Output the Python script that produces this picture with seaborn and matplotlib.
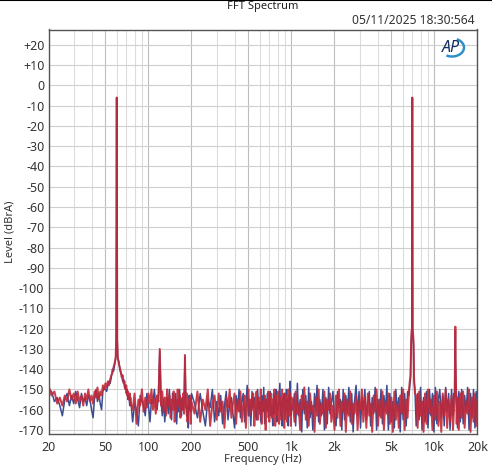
import pandas as pd
import matplotlib
matplotlib.use("Agg")
import matplotlib.pyplot as plt
import seaborn as sns
from matplotlib.patches import Arc
from matplotlib.lines import Line2D
from matplotlib.ticker import FixedLocator, NullFormatter

# --- 20..50 Hz ---
freq_a = [20, 21, 22, 23, 24, 25, 26, 27, 28, 29,
          30, 31, 32, 33, 34, 35, 36, 37, 38, 39,
          40, 41, 42, 43, 44, 45, 46, 47, 48, 49,
          50]
red_a = [-148, -153, -151, -157, -154, -158, -153, -156, -150, -155,
         -152, -157, -151, -156, -153, -158, -152, -155, -150, -156,
         -153, -157, -151, -154, -149, -155, -151, -153, -148, -150,
         -147]
blue_a = [-150, -151, -156, -154, -158, -163, -155, -152, -158, -153,
          -157, -151, -155, -159, -152, -156, -154, -158, -153, -155,
          -160, -164, -154, -150, -156, -152, -157, -160, -151, -149,
          -150]

# --- 50..75 Hz (60 Hz tone) ---
freq_b = [51, 52, 53, 54, 55, 56, 57, 58, 59, 59.5,
          59.8, 60, 60.2, 60.5, 61, 62, 63, 64, 65, 66,
          67, 68, 69, 70, 71, 72, 73, 74, 75]
red_b = [-149, -146, -148, -145, -143, -142, -139, -137, -134, -125,
         -60, -6, -60, -125, -134, -137, -139, -141, -144, -143,
         -147, -146, -150, -148, -153, -151, -155, -152, -157]
blue_b = [-151, -148, -146, -147, -144, -140, -141, -138, -135, -126,
          -62, -6, -62, -126, -135, -136, -140, -142, -143, -146,
          -145, -149, -148, -152, -150, -155, -153, -158, -154]

# --- 75..200 Hz ---
freq_c = [77.5, 80, 82.5, 85, 87.5, 90, 92.5, 95, 97.5, 100,
          102.5, 105, 107.5, 110, 112.5, 115, 117.5, 120, 122.5, 125,
          127.5, 130, 132.5, 135, 137.5, 140, 142.5, 145, 147.5, 150,
          152.5, 155, 157.5, 160, 162.5, 165, 167.5, 170, 172.5, 175,
          177.5, 180, 182.5, 185, 187.5, 190, 192.5, 195, 197.5, 200]
red_c = [-160, -152, -167, -155, -158, -150, -161, -154, -159, -152,
         -157, -150, -160, -155, -162, -153, -156, -130, -158, -151,
         -161, -154, -163, -150, -158, -153, -164, -155, -160, -151,
         -166, -156, -161, -150, -158, -153, -164, -155, -160, -152,
         -162, -133, -159, -152, -166, -155, -160, -153, -167, -156]
blue_c = [-166, -157, -160, -168, -153, -156, -158, -163, -152, -158,
          -166, -155, -157, -150, -158, -160, -152, -131, -156, -163,
          -155, -166, -158, -154, -162, -150, -159, -165, -152, -157,
          -160, -152, -167, -155, -161, -150, -158, -163, -154, -160,
          -157, -134, -156, -163, -158, -169, -153, -159, -161, -152]

# --- 200..1000 Hz ---
freq_d = [210, 220, 230, 240, 250, 260, 270, 280, 290, 300,
          310, 320, 330, 340, 350, 360, 370, 380, 390, 400,
          410, 420, 430, 440, 450, 460, 470, 480, 490, 500,
          510, 520, 530, 540, 550, 560, 570, 580, 590, 600,
          610, 620, 630, 640, 650, 660, 670, 680, 690, 700,
          710, 720, 730, 740, 750, 760, 770, 780, 790, 800,
          810, 820, 830, 840, 850, 860, 870, 880, 890, 900,
          910, 920, 930, 940, 950, 960, 970, 980, 990, 1000]
red_d = [-162, -151, -166, -155, -160, -150, -168, -157, -153, -165,
         -152, -161, -156, -169, -154, -159, -150, -164, -157, -152,
         -167, -155, -161, -151, -166, -158, -153, -169, -156, -150,
         -163, -155, -160, -152, -168, -157, -151, -165, -154, -162,
         -150, -167, -156, -159, -153, -170, -155, -161, -151, -166,
         -157, -152, -164, -155, -160, -150, -168, -156, -153, -163,
         -151, -167, -158, -154, -165, -150, -161, -156, -169, -152,
         -159, -153, -166, -155, -150, -163, -157, -152, -168, -154]
blue_d = [-157, -164, -152, -161, -168, -155, -159, -150, -166, -156,
          -163, -153, -167, -158, -151, -165, -157, -154, -162, -169,
          -153, -160, -150, -164, -156, -152, -166, -158, -148, -163,
          -155, -168, -151, -159, -154, -162, -165, -150, -160, -156,
          -166, -153, -161, -149, -167, -155, -160, -152, -164, -157,
          -151, -163, -158, -168, -152, -162, -155, -150, -166, -157,
          -160, -153, -147, -163, -156, -168, -154, -159, -152, -165,
          -157, -150, -161, -155, -168, -153, -160, -146, -163, -158]

# --- 1k..20k Hz (7 kHz tone + 14 kHz harmonic) ---
freq_e = [1020, 1050, 1070, 1100, 1120, 1150, 1180, 1200, 1230, 1260,
          1290, 1320, 1350, 1380, 1410, 1450, 1480, 1510, 1550, 1580,
          1620, 1660, 1700, 1740, 1780, 1820, 1860, 1900, 1950, 2000,
          2050, 2100, 2150, 2200, 2250, 2300, 2350, 2400, 2460, 2520,
          2580, 2640, 2700, 2760, 2830, 2900, 2970, 3040, 3110, 3180,
          3260, 3340, 3420, 3500, 3580, 3670, 3760, 3850, 3940, 4030,
          4130, 4230, 4330, 4430, 4540, 4650, 4760, 4880, 5000, 5120,
          5240, 5370, 5500, 5630, 5760, 5900, 6040, 6190, 6340, 6490,
          6640, 6720, 6800, 6860, 6920, 6960, 6980, 7000, 7020, 7040,
          7080, 7140, 7200, 7300, 7450, 7630, 7810, 8000, 8190, 8390,
          8590, 8800, 9010, 9230, 9450, 9680, 9910, 10150, 10400, 10650,
          10900, 11160, 11430, 11700, 11980, 12270, 12560, 12860, 13170, 13480,
          13700, 13850, 13950, 14000, 14050, 14150, 14300, 14500, 14800, 15150,
          15500, 15880, 16260, 16650, 17050, 17460, 17880, 18310, 18750, 19200,
          19600, 20000]
red_e = [-155, -166, -151, -162, -157, -170, -153, -160, -149, -165,
         -156, -168, -152, -161, -158, -171, -154, -163, -150, -167,
         -157, -162, -151, -169, -155, -160, -152, -166, -158, -170,
         -153, -164, -150, -168, -156, -161, -152, -171, -155, -163,
         -151, -167, -157, -162, -153, -170, -156, -160, -150, -166,
         -154, -169, -152, -163, -157, -171, -153, -161, -150, -168,
         -155, -164, -151, -170, -156, -162, -152, -167, -154, -171,
         -151, -165, -157, -169, -153, -162, -150, -170, -155, -164,
         -150, -146, -143, -128, -121, -120, -60, -6, -60, -120,
         -122, -126, -144, -152, -153, -169, -151, -163, -156, -171,
         -152, -167, -150, -162, -155, -170, -153, -165, -151, -168,
         -156, -171, -152, -163, -150, -169, -155, -166, -153, -170,
         -160, -150, -127, -119, -135, -148, -167, -154, -170, -152,
         -164, -151, -169, -156, -162, -150, -171, -154, -166, -152,
         -168, -155]
blue_e = [-160, -152, -168, -147, -163, -155, -171, -150, -162, -153,
          -169, -149, -164, -156, -170, -152, -161, -148, -166, -155,
          -163, -150, -170, -154, -167, -149, -162, -157, -151, -164,
          -168, -151, -159, -155, -170, -150, -165, -153, -162, -149,
          -166, -152, -171, -156, -148, -163, -151, -169, -154, -160,
          -150, -165, -157, -151, -168, -154, -162, -149, -170, -155,
          -163, -150, -167, -153, -161, -148, -170, -152, -166, -156,
          -169, -150, -161, -154, -171, -149, -165, -152, -168, -151,
          -153, -148, -145, -130, -123, -121, -62, -6, -62, -122,
          -124, -128, -146, -150, -168, -152, -165, -149, -170, -154,
          -166, -151, -169, -150, -163, -152, -171, -149, -167, -155,
          -150, -164, -153, -168, -149, -161, -152, -170, -150, -163,
          -152, -154, -129, -121, -137, -150, -155, -169, -151, -166,
          -150, -167, -153, -161, -149, -170, -152, -164, -150, -169,
          -151, -167]

x_ticks = [20, 50, 100, 200, 500, 1000, 2000, 5000, 10000, 20000]
x_labels = ['20', '50', '100', '200', '500', '1k', '2k', '5k', '10k', '20k']
x_minor = [30, 40, 60, 70, 80, 90, 300, 400, 600, 700, 800, 900,
           3000, 4000, 6000, 7000, 8000, 9000]
y_ticks = list(range(-170, 21, 10))

spec = pd.DataFrame({
    'freq': freq_a + freq_b + freq_c + freq_d + freq_e,
    'red': red_a + red_b + red_c + red_d + red_e,
    'blue': blue_a + blue_b + blue_c + blue_d + blue_e,
})

sns.set_style('white')
plt.rcParams['font.family'] = ['Noto Sans', 'DejaVu Sans']

fig = plt.figure(figsize=(4.92, 4.67), dpi=100)
ax = fig.add_axes([48.5 / 492, 1 - 434 / 467, 429 / 492, 404.5 / 467])

sns.lineplot(data=spec, x='freq', y='blue', color='#3a4d92', lw=1.1,
             estimator=None, ax=ax)
sns.lineplot(data=spec, x='freq', y='red', color='#c12838', lw=1.4,
             alpha=0.9, estimator=None, ax=ax)

ax.set_xscale('log')
ax.set_xlim(20, 20000)
ax.set_ylim(-172, 27.6)
ax.xaxis.set_major_locator(FixedLocator(x_ticks))
ax.set_xticklabels(x_labels)
ax.xaxis.set_minor_locator(FixedLocator(x_minor))
ax.xaxis.set_minor_formatter(NullFormatter())
ax.set_yticks(y_ticks)
ax.set_yticklabels([f'+{v}' if v > 0 else str(v) for v in y_ticks])
ax.tick_params(axis='both', which='both', length=0, labelsize=9,
               labelcolor='#333333')
ax.tick_params(axis='x', pad=5)
ax.tick_params(axis='y', pad=3)

ax.grid(True, which='major', axis='x', color='#bdbdbd', lw=0.8)
ax.grid(True, which='minor', axis='x', color='#dcdcdc', lw=0.8)
ax.grid(True, which='major', axis='y', color='#cfcfcf', lw=0.8)
ax.set_axisbelow(True)
for s in ax.spines.values():
    s.set_color('#555555')
    s.set_linewidth(1)

ax.set_xlabel('Frequency (Hz)', fontsize=8, color='#333333')
ax.set_ylabel('Level (dBrA)', fontsize=8, color='#333333')
ax.xaxis.set_label_coords(0.5, -0.062)
ax.xaxis.label.set_va('center')
ax.yaxis.set_label_coords(-0.0897, 0.5)
ax.yaxis.label.set_va('center')

fig.text(263 / 492, 1 - 6.5 / 467, 'FFT Spectrum', ha='center', va='center',
         fontsize=8, color='#222222')
fig.text(474 / 492, 1 - 21 / 467, '05/11/2025 18:30:564', ha='right',
         va='center', fontsize=8.7, color='#333333')

# AP logo
fig.text(451 / 492, 1 - 48 / 467, 'AP', ha='center', va='center',
         fontsize=11.5, fontweight='bold', fontstyle='italic', color='#152f66')
fig.add_artist(Arc((452 / 100, (467 - 47.5) / 100), 0.24, 0.18, theta1=-125,
                   theta2=60, transform=fig.dpi_scale_trans,
                   color='#2f8fca', lw=1.8))

fig.add_artist(Line2D([0, 1], [0.999, 0.999], color='black', lw=1.5))

fig.savefig('out.png', dpi=100)
